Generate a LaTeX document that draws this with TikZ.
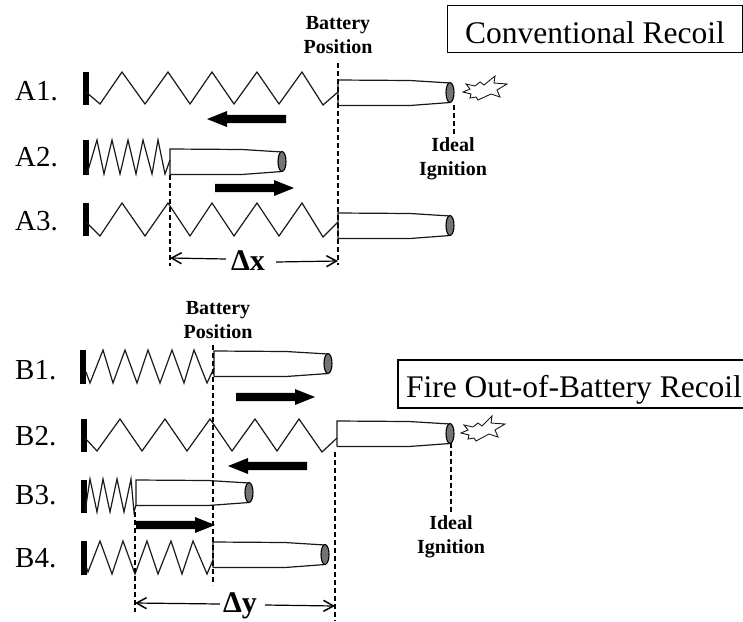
\documentclass[tikz,border=0pt]{standalone}
\usepackage{fontspec}
\setmainfont{Liberation Serif}
\usetikzlibrary{arrows.meta}
\tikzset{
 x=1pt,y=-1pt,
 line/.style={line width=1.2pt,black!90,line join=miter},
 wallbar/.style={fill=black,draw=none},
 tipcap/.style={draw=black,line width=1.1pt,fill=black!55},
 vdash/.style={line width=1.2pt,dash pattern=on 5pt off 3pt},
 lab/.style={font=\fontsize{29}{29}\selectfont,anchor=west,inner sep=0pt},
 small/.style={font=\bfseries\fontsize{20}{24}\selectfont,align=center,inner sep=0pt},
 titlebox/.style={draw,line width=1.1pt,font=\fontsize{31.5}{31.5}\selectfont,inner sep=0pt,anchor=center,text depth=0pt},
 bigarrow/.style={draw=none,fill=black},
 dim/.style={line width=1.2pt,-{Straight Barb[length=10pt,width=11pt,line width=1.5pt]}},
 dimtext/.style={font=\bfseries\fontsize{30}{30}\selectfont,inner sep=0pt},
}
% #1 x left, #2 top y, #3 tip x
\newcommand{\bullt}[3]{%
 \pgfmathsetmacro{\bb}{#2+25.5}\pgfmathsetmacro{\mx}{#1+72}%
 \draw[line] (#1,\bb) -- (#1,#2) -- (\mx,#2+.5) -- (#3,#2+3);
 \draw[line] (#1,\bb) -- (\mx,\bb) -- (#3,\bb-3);
 \draw[tipcap] (#3,#2+12.5) ellipse (4 and 10);
}
\newcommand{\wallb}[3]{\fill[wallbar] (#1,#2) rectangle (#1+5.5,#3);}
% #1 x, #2 y centre, #3 direction +1 right / -1 left, length 79
\newcommand{\fatarrow}[3]{%
 \fill[bigarrow] (#1,#2) -- ++(#3*20,-8) -- ++(0,3.8) -- ++(#3*59,0) -- ++(0,8.4) -- ++(-#3*59,0) -- ++(0,3.8) -- cycle;
}
\begin{document}
\begin{tikzpicture}
\useasboundingbox (0,0) rectangle (743,621);
% labels
\node[lab] (a1) at (15,91) {A1.};
\node[lab] (a2) at (15,157) {A2.};
\node[lab] (a3) at (15,221) {A3.};
\node[lab] (b1) at (15,370) {B1.};
\node[lab] (b2) at (15,436) {B2.};
\node[lab] (b3) at (15,495) {B3.};
\node[lab] (b4) at (15,558) {B4.};
% titles
\node[titlebox,minimum width=295pt,minimum height=47pt,text height=28pt] (t1) at (595,29) {Conventional Recoil};
\node[titlebox,minimum width=352pt,minimum height=48pt,text height=27pt] (t2) at (574,384) {Fire Out-of-Battery Recoil};
\node[small] (bp1) at (338,35) {Battery\\Position};
\node[small] (bp2) at (218,320) {Battery\\Position};
\node[small] (ii1) at (453,159) {Ideal\\Ignition};
\node[small] (ii2) at (451,537) {Ideal\\Ignition};
% A1
\wallb{83}{72}{105}
\draw[line] (86,92)--(100,104)--(122,72)--(145,104)--(168,72)--(190,104)--(212,72)--(234,104)--(257,72)--(279,104)--(302,72)--(323,105)--(338,92);
\bullt{338}{80}{450}
\draw[line,line width=.9pt] (463,92)--(470,89)--(466,84)--(475,86)--(480,82)--(484,85)--(495,76)--(494,83)--(507,84)--(497,90)--(500,97)--(491,94)--(478,100)--(476,97)--(470,98)--(471,94)--cycle;
\fatarrow{207}{119}{1}
% A2
\wallb{83}{140}{175}
\draw[line] (87,174)--(97,140)--(104,174)--(112,140)--(120,174)--(128,140)--(136,174)--(143,140)--(152,174)--(158,140)--(165,174)--(170,160);
\bullt{170}{149}{282}
\fatarrow{294}{188}{-1}
% A3
\wallb{83}{203}{236}
\draw[line] (86,222)--(100,236)--(122,203)--(145,236)--(168,203)--(190,236)--(212,203)--(234,236)--(257,203)--(279,236)--(302,203)--(323,237)--(338,222);
\bullt{338}{213}{450}
% dashes
\draw[vdash] (338,63)--(338,265);
\draw[vdash] (170,175)--(170,266);
\draw[vdash] (454,105)--(454,137);
% dx
\node[dimtext] (dx) at (248,261) {Δx};
\coordinate (dxl) at (170,258);
\coordinate (dxr) at (338,261);
\draw[dim] (dx.west)++(-5,-2) -- (dxl);
\draw[dim] (dx.east)++(11,1) -- (dxr);
% B1
\wallb{80}{350}{384}
\draw[line] (86,372)--(90,383)--(103,350)--(113,383)--(125,350)--(137,383)--(148,350)--(160,383)--(172,350)--(184,383)--(194,350)--(207,383)--(214,368);
\bullt{214}{351}{328}
\fatarrow{315}{397}{-1}
% B2
\wallb{81}{419}{452}
\draw[line] (85,438)--(97,451)--(120,419)--(142,451)--(165,419)--(187,451)--(210,419)--(232,451)--(255,419)--(277,451)--(299,419)--(322,452)--(337,438);
\bullt{337}{421}{450}
\draw[line,line width=.9pt] (461,433)--(468,430)--(464,425)--(473,427)--(478,423)--(482,426)--(492,416)--(491,423)--(505,424)--(495,430)--(498,437)--(489,434)--(476,441)--(474,438)--(468,439)--(469,435)--cycle;
\fatarrow{228}{466}{1}
% B3
\wallb{81}{480}{513}
\draw[line] (85,512)--(90,479)--(97,512)--(103,479)--(110,512)--(117,479)--(124,512)--(131,479)--(134,512)--(136,505);
\bullt{136}{480}{249}
\fatarrow{215}{525}{-1}
% B4
\wallb{81}{541}{575}
\draw[line] (86,566)--(88,572)--(100,541)--(112,574)--(123,541)--(135,574)--(147,541)--(158,574)--(171,541)--(182,574)--(193,541)--(207,574)--(213,560);
\bullt{213}{542}{325}
% dashes
\draw[vdash] (213,345)--(213,585);
\draw[vdash] (135,512)--(135,612);
\draw[vdash] (335,452)--(335,621);
\draw[vdash] (451,443)--(451,514);
% dy
\node[dimtext] (dy) at (240,606) {Δy};
\coordinate (dyl) at (135,603);
\coordinate (dyr) at (335,606);
\draw[dim] (dy.west)++(-3,-2) -- (dyl);
\draw[dim] (dy.east)++(8,-1) -- (dyr);
\end{tikzpicture}
\end{document}
